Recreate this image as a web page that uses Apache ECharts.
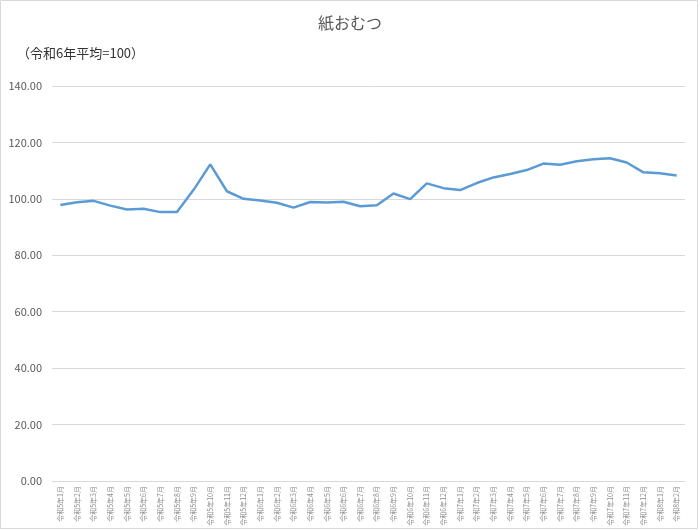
<!DOCTYPE html>
<html>
<head>
<meta charset="utf-8">
<script src="https://cdn.jsdelivr.net/npm/echarts@6/dist/echarts.min.js"></script>
<style>
html,body{margin:0;padding:0;background:#fff;}
#c{width:700px;height:531px;}
</style>
</head>
<body>
<div id="c"></div>
<script>
const categories = [
  '令和5年1月','令和5年2月','令和5年3月','令和5年4月','令和5年5月','令和5年6月','令和5年7月','令和5年8月','令和5年9月','令和5年10月','令和5年11月','令和5年12月',
  '令和6年1月','令和6年2月','令和6年3月','令和6年4月','令和6年5月','令和6年6月','令和6年7月','令和6年8月','令和6年9月','令和6年10月','令和6年11月','令和6年12月',
  '令和7年1月','令和7年2月','令和7年3月','令和7年4月','令和7年5月','令和7年6月','令和7年7月','令和7年8月','令和7年9月','令和7年10月','令和7年11月','令和7年12月',
  '令和8年1月','令和8年2月'
];
const values = [
  97.8, 98.8, 99.3, 97.6, 96.2, 96.5, 95.3, 95.3, 103.2, 112.2, 102.7, 100.0,
  99.4, 98.6, 96.9, 98.9, 98.7, 99.0, 97.4, 97.7, 101.9, 99.9, 105.5, 103.8,
  103.1, 105.6, 107.6, 108.8, 110.2, 112.5, 112.1, 113.3, 114.0, 114.4, 112.9, 109.4,
  109.1, 108.3
];
const yTicks = { min: 0, max: 140, interval: 20 };

const chart = echarts.init(document.getElementById('c'));
chart.setOption({
  animation: false,
  backgroundColor: '#fff',
  textStyle: { fontFamily: '"Noto Sans CJK JP", "Noto Sans", sans-serif' },
  title: [
    { text: '紙おむつ', left: 'center', top: 10,
      textStyle: { fontSize: 16, fontWeight: 'normal', color: '#595959', fontFamily: '"Noto Sans CJK JP", sans-serif' } },
    { text: '（令和6年平均=100）', left: 12, top: 42,
      textStyle: { fontSize: 13, fontWeight: 'normal', color: '#333', fontFamily: '"Noto Sans CJK JP", sans-serif' } }
  ],
  graphic: [{
    type: 'rect', shape: { x: 0.5, y: 0.5, width: 697, height: 528 },
    style: { fill: 'none', stroke: '#d9d9d9', lineWidth: 1 }, silent: true
  }],
  grid: { left: 52, right: 15, top: 86, bottom: 50, containLabel: false },
  xAxis: {
    type: 'category', data: categories, boundaryGap: true,
    axisLine: { lineStyle: { color: '#d9d9d9' } },
    axisTick: { show: false },
    axisLabel: { interval: 0, rotate: 90, fontSize: 7, color: '#8c8c8c', margin: 5 }
  },
  yAxis: {
    type: 'value', min: yTicks.min, max: yTicks.max, interval: yTicks.interval,
    axisLine: { show: false }, axisTick: { show: false },
    axisLabel: { formatter: v => v.toFixed(2), fontSize: 11, color: '#595959', margin: 10 },
    splitLine: { lineStyle: { color: '#d9d9d9', width: 1 } }
  },
  series: [{
    type: 'line', data: values, showSymbol: false, symbol: 'none',
    lineStyle: { color: '#5b9bd5', width: 2.5 },
    itemStyle: { color: '#5b9bd5' }
  }]
});
</script>
</body>
</html>
